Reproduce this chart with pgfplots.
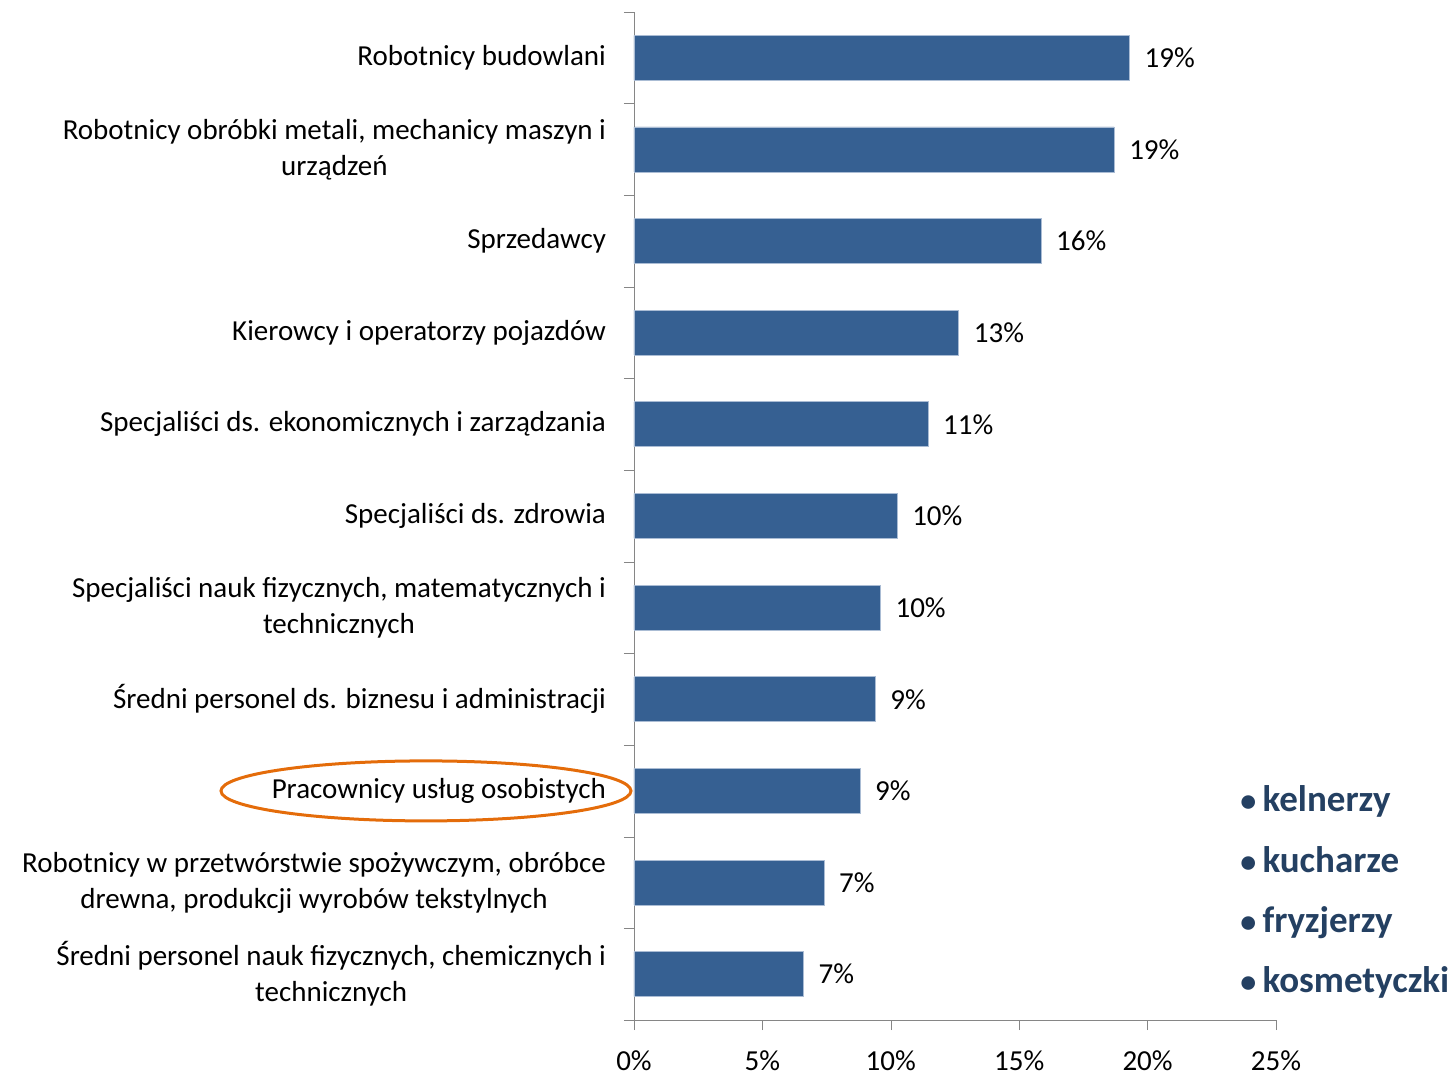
\documentclass[border=0pt]{standalone}
\usepackage{fontspec}
\setmainfont{Carlito}
\usepackage{pgfplots}
\pgfplotsset{compat=1.18}
\definecolor{barblue}{RGB}{54,96,146}
\definecolor{baredge}{RGB}{170,188,212}
\definecolor{listblue}{RGB}{36,64,98}
\definecolor{ringorange}{RGB}{228,108,10}
\definecolor{axisgray}{RGB}{134,134,134}
\pgfplotstableread{
y x
11 19.30
10 18.70
9  15.85
8  12.65
7  11.45
6  10.25
5  9.60
4  9.40
3  8.80
2  7.40
1  6.60
}\shares
\begin{document}
\begin{tikzpicture}
\begin{axis}[
  scale only axis, width=321pt, height=504pt,
  xbar, bar width=22.5pt,
  xmin=0, xmax=25, ymin=0.5, ymax=11.5,
  axis x line*=bottom, axis y line*=left,
  axis line style={-, draw=axisgray},
  tick align=outside, major tick length=5pt, minor tick length=5pt,
  xtick={0,5,...,25},
  xticklabel={\pgfmathprintnumber{\tick}\%},
  /pgf/number format/assume math mode=true,
  ytick={1,...,11},
  minor ytick={0.5,1.5,...,11.5},
  major y tick style={draw=none},
  minor y tick style={draw=axisgray},
  x tick style={draw=axisgray},
  yticklabels={
    {Średni personel  nauk fizycznych, chemicznych i\\technicznych},
    {Robotnicy w przetwórstwie spożywczym, obróbce\\drewna, produkcji wyrobów tekstylnych},
    {Pracownicy usług osobistych},
    {Średni personel ds. biznesu i administracji},
    {Specjaliści nauk fizycznych, matematycznych i\\technicznych},
    {Specjaliści ds. zdrowia},
    {Specjaliści ds. ekonomicznych i zarządzania},
    {Kierowcy i operatorzy pojazdów},
    {Sprzedawcy},
    {Robotnicy obróbki metali, mechanicy maszyn i\\urządzeń},
    {Robotnicy budowlani}},
  yticklabel style={align=center, font=\fontsize{14.5}{18}\selectfont, anchor=east, xshift=-5.5pt},
  xticklabel style={font=\fontsize{14.5}{16}\selectfont, inner sep=0pt, yshift=-10pt},
  point meta=x,
  nodes near coords={\pgfmathprintnumber[fixed,precision=0]{\pgfplotspointmeta}\%},
  nodes near coords style={font=\fontsize{14.5}{16}\selectfont, anchor=west, xshift=4pt},
  clip=false,
]
\addplot[fill=barblue, draw=baredge, line width=0.4pt] table[x=x, y=y] {\shares};
\draw[ringorange, line width=1.5pt] (axis cs:-8.1,3) ellipse [x radius=102.5pt, y radius=15pt];
\begin{scope}[every node/.style={anchor=base west, inner sep=0pt, text=listblue,
    font=\fontsize{18.5}{20}\selectfont\bfseries}]
  \node at (rel axis cs:0.944,0.2073) {{\fontsize{16}{20}\selectfont•}\,kelnerzy};
  \node at (rel axis cs:0.944,0.1468) {{\fontsize{16}{20}\selectfont•}\,kucharze};
  \node at (rel axis cs:0.944,0.0873) {{\fontsize{16}{20}\selectfont•}\,fryzjerzy};
  \node at (rel axis cs:0.944,0.0268) {{\fontsize{16}{20}\selectfont•}\,kosmetyczki};
\end{scope}
\coordinate (bbSW) at (rel axis cs:-0.98754,-0.0575);
\coordinate (bbNE) at (rel axis cs:1.27414,1.01190);
\end{axis}
\pgfresetboundingbox
\path[use as bounding box] (bbSW) rectangle (bbNE);
\end{tikzpicture}
\end{document}
